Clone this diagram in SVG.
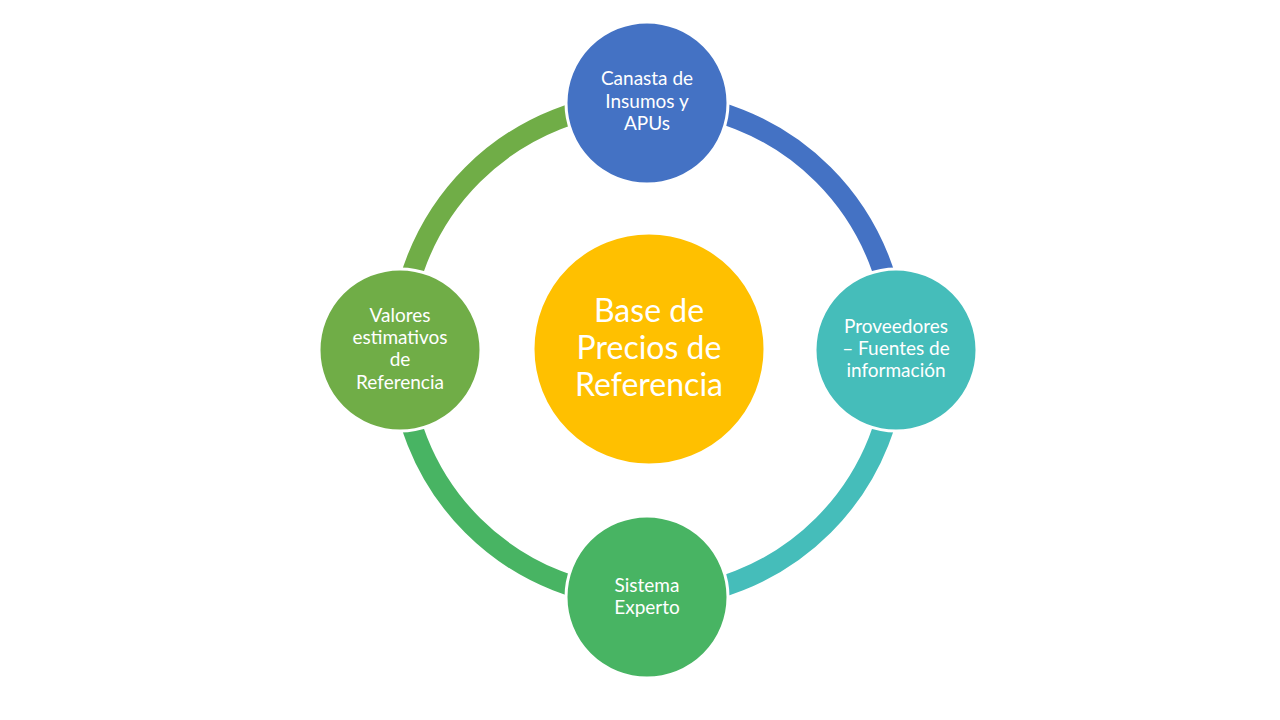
<svg xmlns="http://www.w3.org/2000/svg" width="1280" height="720" viewBox="0 0 1280 720">
<style>
.ring{fill:none;stroke-width:21}
.node{stroke:#fff;stroke-width:3}
.t{font-family:Lato,"Open Sans",sans-serif;fill:#fff;text-anchor:middle;font-size:19px}
.tc{font-family:Lato,"Open Sans",sans-serif;fill:#fff;text-anchor:middle;font-size:32px}
</style>
<rect width="1280" height="720" fill="#fff"/>
<g id="connectors">
<path class="ring" stroke="#4472C4" d="M648 102 A248 248 0 0 1 896 350"/>
<path class="ring" stroke="#45BDBA" d="M896 350 A248 248 0 0 1 648 598"/>
<path class="ring" stroke="#48B463" d="M648 598 A248 248 0 0 1 400 350"/>
<path class="ring" stroke="#70AD47" d="M400 350 A248 248 0 0 1 648 102"/>
</g>
<g id="center">
<circle cx="649" cy="349" r="116" fill="#FFC000" class="node"/>
<text class="tc" x="649" y="322">Base de</text>
<text class="tc" x="649" y="359">Precios de</text>
<text class="tc" x="649" y="396">Referencia</text>
</g>
<g id="top">
<circle cx="647" cy="103" r="81" fill="#4472C4" class="node"/>
<text class="t" x="647" y="85">Canasta de</text>
<text class="t" x="647" y="108">Insumos y</text>
<text class="t" x="647" y="130">APUs</text>
</g>
<g id="right">
<circle cx="896" cy="350" r="81" fill="#45BDBA" class="node"/>
<text class="t" x="896" y="333">Proveedores</text>
<text class="t" x="896" y="355">– Fuentes de</text>
<text class="t" x="896" y="377">información</text>
</g>
<g id="bottom">
<circle cx="647" cy="597" r="81" fill="#48B463" class="node"/>
<text class="t" x="647" y="592">Sistema</text>
<text class="t" x="647" y="614">Experto</text>
</g>
<g id="left">
<circle cx="400" cy="350" r="81" fill="#70AD47" class="node"/>
<text class="t" x="400" y="322">Valores</text>
<text class="t" x="400" y="344">estimativos</text>
<text class="t" x="400" y="366">de</text>
<text class="t" x="400" y="389">Referencia</text>
</g>
</svg>
